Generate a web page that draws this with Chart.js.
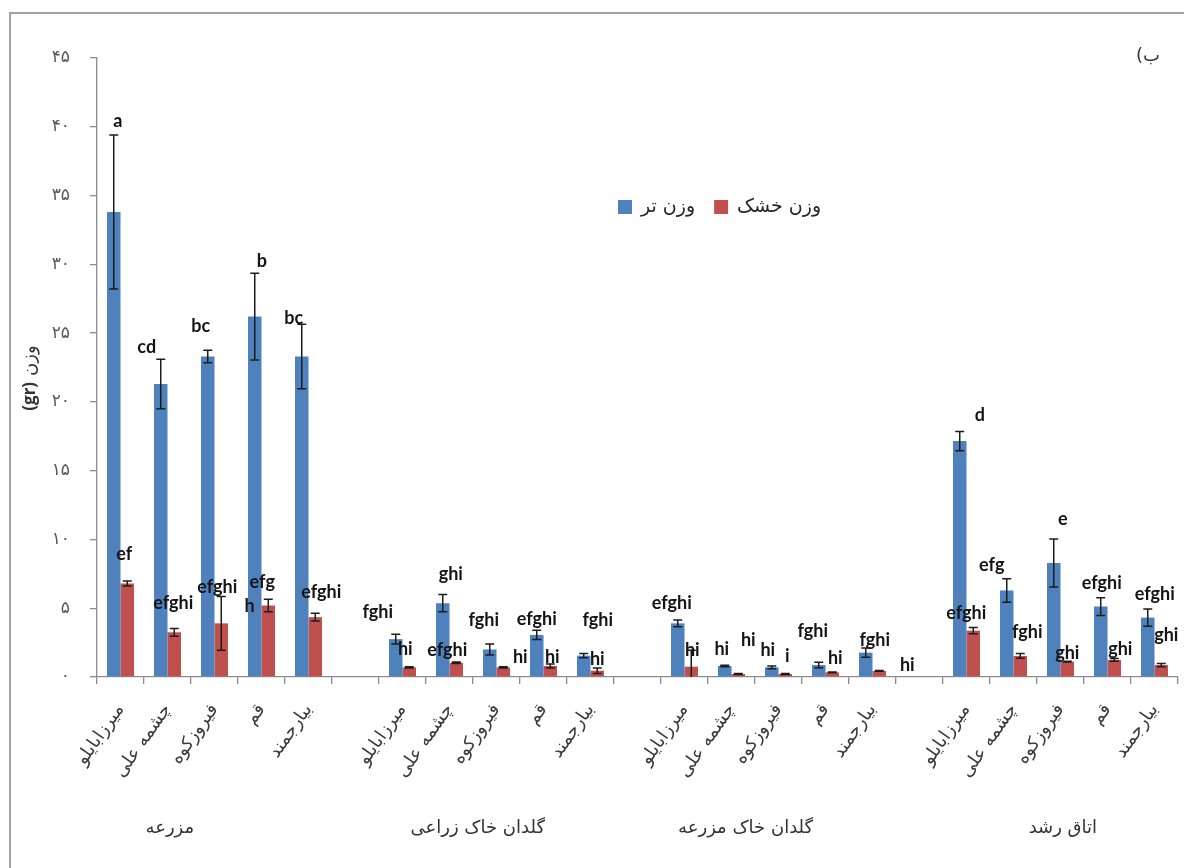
<!DOCTYPE html>
<html lang="fa">
<head>
<meta charset="utf-8">
<title>وزن تر و خشک</title>
<script src="https://cdn.jsdelivr.net/npm/chart.js@4.4.1/dist/chart.umd.min.js"></script>
<style>
  html, body { margin: 0; padding: 0; background: #ffffff; overflow: hidden; }
  #wrap { width: 1184px; height: 868px; position: relative; }
  canvas { display: block; }
</style>
</head>
<body>
<div id="wrap"><canvas id="chart" width="1184" height="868"></canvas></div>
<script>
// Cultivation settings (groups) and populations (categories within each group)
const groups = ['مزرعه', 'گلدان خاک زراعی', 'گلدان خاک مزرعه', 'اتاق رشد'];
const populations = ['میرزابایلو', 'چشمه علی', 'فیروزکوه', 'قم', 'بیارجمند'];

// Series names
const seriesNames = ['وزن تر', 'وزن خشک'];

// Fresh weight (gr), 5 populations per group, groups in order
const freshWeight = [33.8, 21.3, 23.3, 26.2, 23.3,
                     2.75, 5.37, 2.0, 3.06, 1.55,
                     3.9, 0.8, 0.7, 0.87, 1.77,
                     17.15, 6.29, 8.29, 5.12, 4.32];
const freshError  = [5.6, 1.8, 0.45, 3.15, 2.35,
                     0.35, 0.62, 0.4, 0.33, 0.15,
                     0.25, 0.05, 0.1, 0.2, 0.33,
                     0.7, 0.85, 1.75, 0.65, 0.63];

// Dry weight (gr)
const dryWeight = [6.8, 3.25, 3.9, 5.2, 4.35,
                   0.7, 1.04, 0.7, 0.8, 0.46,
                   0.75, 0.22, 0.22, 0.34, 0.44,
                   3.37, 1.53, 1.12, 1.24, 0.87];
const dryError  = [0.18, 0.28, 1.95, 0.45, 0.28,
                   0.05, 0.05, 0.05, 0.15, 0.2,
                   1.2, 0.03, 0.03, 0.03, 0.03,
                   0.22, 0.17, 0.03, 0.1, 0.12];

// Mean-comparison letters
const freshLetters = ['a', 'cd', 'bc', 'b', 'bc',
                      'fghi', 'ghi', 'fghi', 'efghi', 'fghi',
                      'efghi', 'hi', 'hi', 'fghi', 'fghi',
                      'd', 'efg', 'e', 'efghi', 'efghi'];
const dryLetters   = ['ef', 'efghi', 'efghi', 'efg\nh', 'efghi',
                      'hi', 'efghi', 'hi', 'hi', 'hi',
                      'hi', 'hi', 'i', 'hi', 'hi',
                      'efghi', 'fghi', 'ghi', 'ghi', 'ghi'];

// Y axis ticks
const yTicks = [0, 5, 10, 15, 20, 25, 30, 35, 40, 45];

// Letter placement relative to the top of each error bar: [dx, dy] in px
const freshLetterShift = [[4,-14],[-14,-12],[-7,-24],[7,-12],[-8,-6],
                          [-18,-22],[8,-20],[-6,-24],[0,-11],[14,-33],
                          [-6,-17],[-3,-16],[-4,-16],[-6,-31],[9,-8],
                          [20,-16],[-15,-14],[9,-20],[1,-14],[7,-15]];
const dryLetterShift   = [[-3,-27],[-1,-25],[-4,-9],[-6,-17],[6,-21],
                          [-4,-17],[-9,-12],[17,-9],[2,-7],[0,-9],
                          [1,0],[10,-33],[2,-17],[3,-14],[28,-5],
                          [-7,-14],[7,-21],[0,-8],[6,-9],[5,-28]];

// Category slots: each group followed by an empty slot as separator
const GAP = 1;
const xLabels = [];
const slotIndex = []; // data index -> slot
groups.forEach((g, gi) => {
  populations.forEach((p) => { slotIndex.push(xLabels.length); xLabels.push(p); });
  if (gi < groups.length - 1) for (let k = 0; k < GAP; k++) xLabels.push('');
});
function spread(arr) {
  const out = new Array(xLabels.length).fill(null);
  arr.forEach((v, i) => { out[slotIndex[i]] = v; });
  return out;
}

const toFa = n => String(n).replace(/\d/g, d => '۰۱۲۳۴۵۶۷۸۹'[d]);

const BLUE = '#4F81BD';
const RED = '#C0504D';
const AXIS = '#8c8c8c';
const PERSIAN_FONT = "'DejaVu Sans', sans-serif";

const seriesErr = [spread(freshError), spread(dryError)];
const seriesLetters = [spread(freshLetters), spread(dryLetters)];
const seriesShift = [spread(freshLetterShift), spread(dryLetterShift)];

// Frame and white background
const framePlugin = {
  id: 'frame',
  beforeDraw(chart) {
    const c = chart.ctx;
    c.save();
    c.fillStyle = '#ffffff';
    c.fillRect(0, 0, chart.width, chart.height);
    c.strokeStyle = '#a3a3a3';
    c.lineWidth = 2;
    c.strokeRect(10, 13, chart.width + 40, chart.height + 40);
    c.restore();
  }
};

// Error bars and letters above bars
const errorPlugin = {
  id: 'errorBars',
  afterDatasetsDraw(chart) {
    const c = chart.ctx;
    const y = chart.scales.y;
    const area = chart.chartArea;
    c.save();
    c.beginPath();
    c.rect(area.left, area.top - 40, area.right - area.left, area.bottom - area.top + 40);
    c.clip();
    c.strokeStyle = '#1c1c1c';
    c.lineWidth = 1.5;
    chart.data.datasets.forEach((ds, d) => {
      const meta = chart.getDatasetMeta(d);
      meta.data.forEach((el, i) => {
        const v = ds.data[i];
        const e = seriesErr[d][i];
        if (v == null || e == null) return;
        const yt = y.getPixelForValue(v + e);
        const yb = y.getPixelForValue(v - e);
        const x = el.x;
        c.beginPath();
        c.moveTo(x, yt); c.lineTo(x, yb);
        c.moveTo(x - 4.5, yt); c.lineTo(x + 4.5, yt);
        c.moveTo(x - 4.5, yb); c.lineTo(x + 4.5, yb);
        c.stroke();
      });
    });
    c.restore();

    c.save();
    c.fillStyle = '#141414';
    c.font = "bold 18px Lato, 'Open Sans', sans-serif";
    c.textBaseline = 'middle';
    chart.data.datasets.forEach((ds, d) => {
      const meta = chart.getDatasetMeta(d);
      meta.data.forEach((el, i) => {
        const v = ds.data[i];
        const txt = seriesLetters[d][i];
        if (v == null || !txt) return;
        const e = seriesErr[d][i] || 0;
        const sh = seriesShift[d][i];
        const cx = el.x + sh[0];
        const cy = y.getPixelForValue(v + e) + sh[1];
        const lines = txt.split('\n');
        const w0 = c.measureText(lines[0]).width;
        if (lines.length === 1) {
          c.textAlign = 'center';
          c.fillText(txt, cx, cy);
        } else {
          c.textAlign = 'left';
          lines.forEach((ln, k) => c.fillText(ln, cx - w0 / 2 - (k ? 5 : 0), cy + k * 24));
        }
      });
    });
    c.restore();
  }
};

// Legend, axis title, group names and panel tag
const textPlugin = {
  id: 'texts',
  afterDraw(chart) {
    const c = chart.ctx;
    const area = chart.chartArea;
    c.save();
    c.fillStyle = '#262626';
    c.textBaseline = 'middle';

    // legend
    c.font = '19px ' + PERSIAN_FONT;
    let lx = area.left + 521;
    const ly = 207;
    chart.data.datasets.forEach((ds) => {
      c.fillStyle = ds.backgroundColor;
      c.fillRect(lx, ly - 7, 14, 14);
      lx += 23;
      c.fillStyle = '#262626';
      c.textAlign = 'left';
      c.fillText(ds.label, lx, ly);
      lx += c.measureText(ds.label).width + 19;
    });

    // group names under the populations
    const groupAt = [1.05, 7.6, 13.3, 20.05];
    c.font = '18px ' + PERSIAN_FONT;
    c.textAlign = 'center';
    c.fillStyle = '#333333';
    groups.forEach((g, gi) => {
      const px = area.left + (groupAt[gi] + 0.5) * (area.right - area.left) / xLabels.length;
      c.fillText(g, px, 828);
    });

    // panel tag
    c.direction = 'rtl';
    c.textAlign = 'center';
    c.font = '18px ' + PERSIAN_FONT;
    c.fillText('ب)', 1148, 56);
    c.direction = 'ltr';

    // y axis title
    c.translate(30, 378);
    c.rotate(-Math.PI / 2);
    c.textAlign = 'left';
    const unitFont = "bold 17px 'Open Sans', sans-serif";
    const wordFont = '18px ' + PERSIAN_FONT;
    const unit = '(gr)';
    const word = 'وزن';
    c.font = unitFont;
    const uw = c.measureText(unit).width;
    c.font = wordFont;
    const ww = c.measureText(word).width;
    const total = uw + 6 + ww;
    c.font = unitFont;
    c.fillText(unit, -total / 2, 0);
    c.font = wordFont;
    c.fillText(word, -total / 2 + uw + 6, 0);
    c.restore();
  }
};

new Chart(document.getElementById('chart'), {
  type: 'bar',
  data: {
    labels: xLabels,
    datasets: [
      { label: seriesNames[0], data: spread(freshWeight), backgroundColor: BLUE,
        categoryPercentage: 0.575, barPercentage: 1.0 },
      { label: seriesNames[1], data: spread(dryWeight), backgroundColor: RED,
        categoryPercentage: 0.575, barPercentage: 1.0 }
    ]
  },
  options: {
    responsive: false,
    animation: false,
    events: [],
    layout: { padding: { left: 0, top: 58, right: 6, bottom: 0 } },
    plugins: { legend: { display: false }, tooltip: { enabled: false } },
    scales: {
      x: {
        grid: { offset: true, drawOnChartArea: false, tickLength: 7, color: AXIS, lineWidth: 1.3 },
        border: { color: AXIS, width: 1.3 },
        ticks: { autoSkip: false, minRotation: 55, maxRotation: 55, padding: 16,
                 font: { family: PERSIAN_FONT, size: 18 }, color: '#3a3a3a' },
        afterFit(s) { s.height = 191; s.paddingLeft = 0; s.paddingRight = 0; }
      },
      y: {
        min: 0, max: 45,
        afterBuildTicks(s) { s.ticks = yTicks.map(v => ({ value: v })); },
        grid: { drawOnChartArea: false, tickLength: 7, color: AXIS, lineWidth: 1.3 },
        border: { color: AXIS, width: 1.3 },
        ticks: { padding: 20, callback: v => toFa(v),
                 font: { family: PERSIAN_FONT, size: 17 }, color: '#595959' },
        afterFit(s) { s.width = 97; s.paddingTop = 0; s.paddingBottom = 0; }
      }
    }
  },
  plugins: [framePlugin, errorPlugin, textPlugin]
});
</script>
</body>
</html>
